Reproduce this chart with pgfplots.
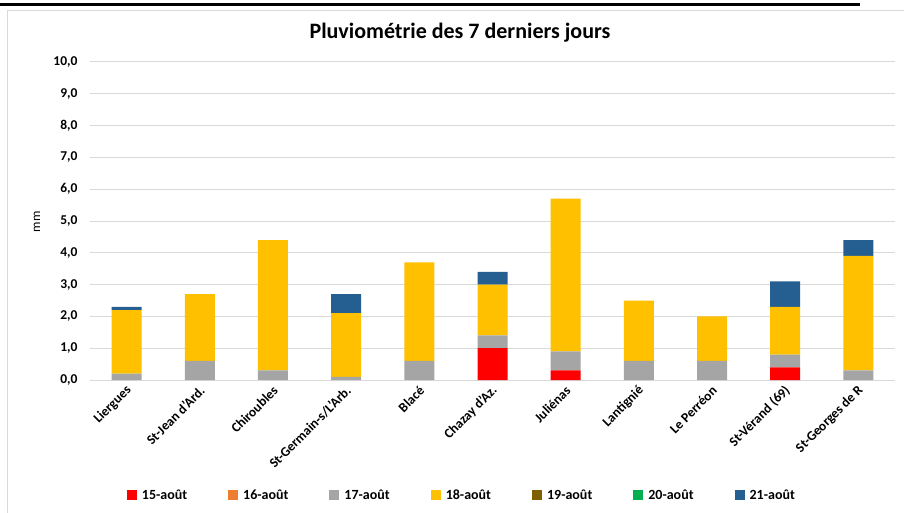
\documentclass[border=0pt]{standalone}
\usepackage{pgfplots}
\usepackage{pgfplotstable}
\usepackage{fontspec}
\setmainfont{Carlito}
\pgfplotsset{compat=1.18}

\definecolor{c15}{HTML}{FF0000}
\definecolor{c16}{HTML}{ED7D31}
\definecolor{c17}{HTML}{A5A5A5}
\definecolor{c18}{HTML}{FFC000}
\definecolor{c19}{HTML}{7F6000}
\definecolor{c20}{HTML}{00B050}
\definecolor{c21}{HTML}{255E91}
\definecolor{gridc}{HTML}{D9D9D9}

% pluie (mm) par station et par jour
\pgfplotstableread{
x  a    b  c    d    e  f  g
0  0    0  0.2  2.0  0  0  0.1
1  0    0  0.6  2.1  0  0  0
2  0    0  0.3  4.1  0  0  0
3  0    0  0.1  2.0  0  0  0.6
4  0    0  0.6  3.1  0  0  0
5  1.0  0  0.4  1.6  0  0  0.4
6  0.3  0  0.6  4.8  0  0  0
7  0    0  0.6  1.9  0  0  0
8  0    0  0.6  1.4  0  0  0
9  0.4  0  0.4  1.5  0  0  0.8
10 0    0  0.3  3.6  0  0  0.5
}\pluie

\begin{document}
\begin{tikzpicture}
\path[use as bounding box] (0pt,0pt) rectangle (904pt,-513pt);
\draw[line width=3pt] (0pt,-5pt) -- (860pt,-5pt);
\draw[gridc, line width=1pt] (7pt,-513pt) -- (7pt,-11pt) -- (904pt,-11pt);
\node[font=\fontsize{22}{26}\selectfont\bfseries] at (460pt,-33pt) {Pluviométrie des 7 derniers jours};
\node[rotate=90, font=\fontsize{13}{15}\selectfont] at (37pt,-222pt) {mm};
\begin{axis}[
    at={(90pt,-380pt)}, anchor=south west,
    scale only axis,
    width=805pt, height=318pt,
    ybar stacked, bar width=30pt,
    xmin=-0.5, xmax=10.5,
    ymin=0, ymax=10,
    xtick=data,
    xticklabels={Liergues, St-Jean d'Ard., Chiroubles, St-Germain-s/L'Arb., Blacé, Chazay d'Az., Juliénas, Lantignié, Le Perréon, St-Vérand (69), St-Georges de R},
    ytick={0,1,...,10},
    major tick length=0pt,
    axis x line*=bottom, axis y line*=left,
    axis line style={-},
    x axis line style={draw=gridc, line width=1pt},
    y axis line style={draw=none},
    ymajorgrids=true,
    grid style={draw=gridc, line width=1pt},
    ticklabel style={font=\fontsize{13.5}{16}\selectfont\bfseries},
    yticklabel style={xshift=-9pt, /pgf/number format/.cd, fixed, fixed zerofill, precision=1, use comma, assume math mode=true},
    xticklabel style={xshift=5pt, yshift=-6pt, rotate=45, anchor=east},
    legend style={at={(axis description cs:0.462,-0.362)}, anchor=center, draw=none,
        font=\fontsize{14}{17}\selectfont\bfseries,
        /tikz/every odd column/.append style={column sep=3pt},
        /tikz/every even column/.append style={column sep=39pt}},
    legend columns=7,
    legend image code/.code={\fill[#1] (0pt,-5pt) rectangle (10pt,5pt);},
    every axis plot/.append style={draw=none},
]
\addplot[fill=c15] table[x=x,y=a] {\pluie};
\addplot[fill=c16] table[x=x,y=b] {\pluie};
\addplot[fill=c17] table[x=x,y=c] {\pluie};
\addplot[fill=c18] table[x=x,y=d] {\pluie};
\addplot[fill=c19] table[x=x,y=e] {\pluie};
\addplot[fill=c20] table[x=x,y=f] {\pluie};
\addplot[fill=c21] table[x=x,y=g] {\pluie};
\legend{15-août, 16-août, 17-août, 18-août, 19-août, 20-août, 21-août}
\end{axis}
\end{tikzpicture}
\end{document}
